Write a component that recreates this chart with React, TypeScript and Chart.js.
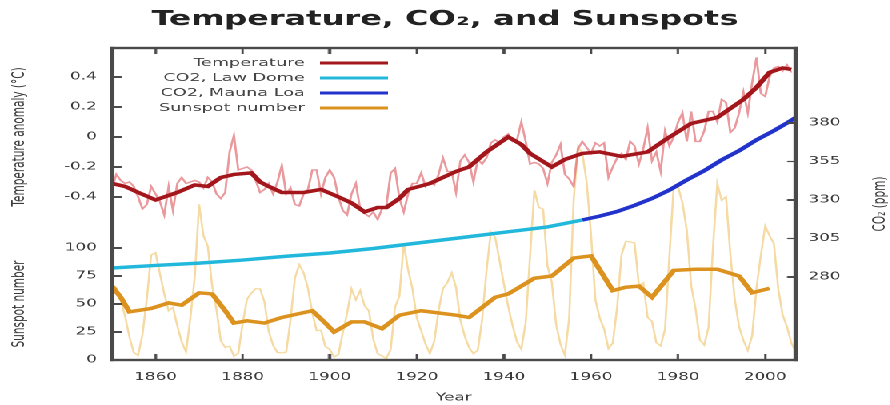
import React, { useEffect, useRef, useState } from "react";
import { Chart, registerables } from "chart.js";

Chart.register(...registerables);

// ---------- text ----------
const TITLE = "Temperature, CO₂, and Sunspots";
const X_TITLE = "Year";
const TEMP_TITLE = "Temperature anomaly (°C)";
const SUN_TITLE = "Sunspot number";
const CO2_TITLE = "CO₂ (ppm)";
const LEGEND_LABELS = ["Temperature", "CO2, Law Dome", "CO2, Mauna Loa", "Sunspot number"];

// ---------- ticks ----------
const YEAR_TICKS = [1860, 1880, 1900, 1920, 1940, 1960, 1980, 2000];
const TEMP_TICKS = [-0.4, -0.2, 0, 0.2, 0.4];
const TEMP_TICK_LABELS = ["-0.4", "-0.2", "0", "0.2", "0.4"];
const SUN_TICKS = [0, 25, 50, 75, 100];
const SUN_TICK_LABELS = ["0", "25", "50", "75", "100"];
const CO2_TICKS = [280, 305, 330, 355, 380];
const CO2_TICK_LABELS = ["280", "305", "330", "355", "380"];

// ---------- axis ranges ----------
const X_MIN = 1850;
const X_MAX = 2007;
const TEMP_MIN = -1.487;
const TEMP_MAX = 0.593;
const SUN_MIN = 0;
const SUN_MAX = 278.6;
const CO2_MIN = 226.1;
const CO2_MAX = 428.7;

// ---------- data ----------
const TEMP_START_YEAR = 1850;
const TEMP_ANNUAL = [
  -0.34, -0.25, -0.29, -0.31, -0.30, -0.33, -0.40, -0.48, -0.45, -0.33,
  -0.38, -0.43, -0.52, -0.33, -0.49, -0.31, -0.27, -0.31, -0.30, -0.29,
  -0.30, -0.34, -0.27, -0.30, -0.38, -0.41, -0.37, -0.10, 0.01, -0.22,
  -0.21, -0.20, -0.22, -0.29, -0.37, -0.35, -0.31, -0.38, -0.30, -0.19,
  -0.38, -0.34, -0.45, -0.46, -0.38, -0.35, -0.22, -0.22, -0.38, -0.27,
  -0.22, -0.27, -0.40, -0.49, -0.52, -0.38, -0.31, -0.48, -0.51, -0.53,
  -0.50, -0.55, -0.48, -0.46, -0.24, -0.21, -0.41, -0.50, -0.38, -0.31,
  -0.31, -0.24, -0.33, -0.30, -0.32, -0.25, -0.14, -0.23, -0.23, -0.37,
  -0.16, -0.12, -0.17, -0.30, -0.15, -0.18, -0.14, -0.04, -0.02, -0.04,
  0.00, 0.02, -0.03, -0.02, 0.10, -0.03, -0.18, -0.17, -0.18, -0.21,
  -0.31, -0.17, -0.12, -0.05, -0.25, -0.28, -0.33, -0.08, -0.03, -0.07,
  -0.11, -0.04, -0.06, -0.04, -0.27, -0.20, -0.14, -0.11, -0.15, -0.03,
  -0.06, -0.18, -0.08, 0.06, -0.16, -0.10, -0.23, 0.04, -0.06, 0.00,
  0.10, 0.16, -0.03, 0.17, -0.03, -0.03, 0.04, 0.17, 0.17, 0.10,
  0.25, 0.23, 0.03, 0.06, 0.16, 0.30, 0.16, 0.36, 0.53, 0.29,
  0.27, 0.40, 0.46, 0.47, 0.44, 0.48, 0.43,
];

const TEMP_SMOOTH_YEARS = [
  1850, 1853, 1856, 1860, 1865, 1869, 1872, 1875, 1878, 1882,
  1884, 1886, 1889, 1894, 1898, 1902, 1905, 1908, 1911, 1913,
  1916, 1918, 1923, 1926, 1929, 1932, 1936, 1941, 1944, 1946,
  1951, 1954, 1958, 1962, 1967, 1973, 1977, 1983, 1989, 1995,
  1998, 2001, 2004, 2006,
];
const TEMP_SMOOTH = [
  -0.31, -0.33, -0.37, -0.42, -0.37, -0.32, -0.33, -0.27, -0.25, -0.24,
  -0.30, -0.33, -0.37, -0.37, -0.35, -0.40, -0.44, -0.50, -0.47, -0.47,
  -0.41, -0.35, -0.31, -0.27, -0.23, -0.20, -0.10, 0.00, -0.05, -0.11,
  -0.20, -0.15, -0.11, -0.10, -0.13, -0.10, -0.02, 0.09, 0.13, 0.25,
  0.33, 0.43, 0.46, 0.45,
];

const SUN_START_YEAR = 1850;
const SUN_ANNUAL = [
  66.5, 64.5, 54.1, 39.0, 20.6, 6.7, 4.3, 22.7, 54.8, 93.8,
  95.8, 77.2, 59.1, 44.0, 47.0, 30.5, 16.3, 7.3, 37.6, 74.0,
  139.0, 111.2, 101.6, 66.2, 44.7, 17.0, 11.3, 12.4, 3.4, 6.0,
  32.3, 54.3, 59.7, 63.7, 63.5, 52.2, 25.4, 13.1, 6.8, 6.3,
  7.1, 35.6, 73.0, 85.1, 78.0, 64.0, 41.8, 26.2, 26.7, 12.1,
  9.5, 2.7, 5.0, 24.4, 42.0, 63.5, 53.8, 62.0, 48.5, 43.9,
  18.6, 5.7, 3.6, 1.4, 9.6, 47.4, 57.1, 103.9, 80.6, 63.6,
  37.6, 26.1, 14.2, 5.8, 16.7, 44.3, 63.9, 69.0, 77.8, 64.9,
  35.7, 21.2, 11.1, 5.7, 8.7, 36.1, 79.7, 114.4, 109.6, 88.8,
  67.8, 47.5, 30.6, 16.3, 9.6, 33.2, 92.6, 151.6, 136.3, 134.7,
  83.9, 69.4, 31.5, 13.9, 4.4, 38.0, 141.7, 190.2, 184.8, 159.0,
  112.3, 53.9, 37.6, 27.9, 10.2, 15.1, 47.0, 93.8, 105.9, 105.5,
  104.5, 66.6, 68.9, 38.0, 34.5, 15.5, 12.6, 27.5, 92.5, 155.4,
  154.6, 140.4, 115.9, 66.6, 45.9, 17.9, 13.4, 29.4, 100.2, 157.6,
  142.6, 145.7, 94.3, 54.6, 29.9, 17.5, 8.6, 21.5, 64.3, 93.3,
  119.6, 111.0, 104.0, 63.7, 40.4, 29.8, 15.2, 7.5,
];

const SUN_SMOOTH_YEARS = [
  1850, 1852, 1854, 1859, 1863, 1866, 1870, 1873, 1876, 1878,
  1881, 1885, 1889, 1896, 1899, 1901, 1905, 1908, 1912, 1916,
  1921, 1929, 1932, 1938, 1941, 1947, 1951, 1956, 1960, 1965,
  1968, 1971, 1974, 1979, 1984, 1989, 1994, 1997, 2001,
];
const SUN_SMOOTH = [
  66, 56, 43, 46, 51, 49, 60, 59, 44, 33,
  35, 33, 38, 44, 33, 25, 34, 34, 28, 40,
  44, 40, 38, 56, 59, 73, 75, 91, 93, 62,
  65, 66, 56, 80, 81, 81, 75, 60, 64,
];

const LAW_DOME_YEARS = [1850, 1860, 1870, 1880, 1890, 1900, 1910, 1920, 1930, 1940, 1950, 1958];
const LAW_DOME = [285.8, 287.5, 289, 291, 293.5, 295.6, 298.5, 302, 305.5, 309, 312.5, 317];

const MAUNA_LOA_YEARS = [1958, 1962, 1966, 1970, 1974, 1978, 1982, 1986, 1990, 1994, 1998, 2002, 2005, 2007];
const MAUNA_LOA = [317, 319.5, 322.5, 326.5, 331, 336.5, 343, 349, 356, 362, 369, 375, 380, 383.5];

// ---------- style ----------
const STRETCH = 1.6;
const OUT_W = 890;
const OUT_H = 405;
const INNER_W = OUT_W / STRETCH;
const FONT = "'DejaVu Sans', sans-serif";
const TEXT_COLOR = "#3a3a3a";
const FRAME_COLOR = "#4a4a4a";
const FRAME_W = 2.4;
const TICK_W = 1.2;
const C_TEMP_ANNUAL = "rgba(225, 110, 115, 0.7)";
const C_TEMP_SMOOTH = "#a3161b";
const C_LAW = "#22b8dc";
const C_MAUNA = "#2233cc";
const C_SUN_ANNUAL = "rgba(242, 210, 140, 0.8)";
const C_SUN_SMOOTH = "#dc921f";

const sunToTemp = (s: number) => TEMP_MIN + ((s - SUN_MIN) / (SUN_MAX - SUN_MIN)) * (TEMP_MAX - TEMP_MIN);
const LEFT_TICK_VALUES = [...TEMP_TICKS, ...SUN_TICKS.map(sunToTemp)];
const LEFT_TICK_LABELS = [...TEMP_TICK_LABELS, ...SUN_TICK_LABELS];

const pairs = (xs: number[], ys: number[]) => ys.map((y, i) => ({ x: xs[i], y }));
const annual = (start: number, ys: number[]) => ys.map((y, i) => ({ x: start + i, y }));

type Geo = { L: number; R: number; T: number; B: number; xt: number[]; lt: number[]; rt: number[] };

function computeGeo(chart: any): Geo {
  const sx = chart.scales.x;
  const sT = chart.scales.yT;
  const sC = chart.scales.yC;
  return {
    L: sT.right,
    R: sC.left,
    T: sT.top,
    B: sT.bottom,
    xt: YEAR_TICKS.map((v) => sx.getPixelForValue(v)),
    lt: LEFT_TICK_VALUES.map((v) => sT.getPixelForValue(v)),
    rt: CO2_TICKS.map((v) => sC.getPixelForValue(v)),
  };
}

function drawFrame(chart: any) {
  const ctx = chart.ctx;
  const g = computeGeo(chart);
  ctx.save();
  ctx.fillStyle = FRAME_COLOR;
  ctx.fillRect(g.L - FRAME_W / 2, g.T - FRAME_W / 2, g.R - g.L + FRAME_W, FRAME_W);
  ctx.fillRect(g.L - FRAME_W / 2, g.B - FRAME_W / 2, g.R - g.L + FRAME_W, FRAME_W);
  ctx.fillRect(g.L - FRAME_W / 2, g.T - FRAME_W / 2, FRAME_W, g.B - g.T + FRAME_W);
  ctx.fillRect(g.R - FRAME_W / 2, g.T - FRAME_W / 2, FRAME_W, g.B - g.T + FRAME_W);
  g.xt.forEach((px) => {
    ctx.fillRect(px - TICK_W / 2, g.B - 6, TICK_W, 6);
    ctx.fillRect(px - TICK_W / 2, g.T, TICK_W, 6);
  });
  g.lt.forEach((py) => ctx.fillRect(g.L, py - TICK_W / 2, 6, TICK_W));
  g.rt.forEach((py) => ctx.fillRect(g.R - 5, py - TICK_W / 2, 5, TICK_W));
  ctx.restore();
}

function drawLegend(chart: any) {
  const ctx = chart.ctx;
  const items: { label: string; color: string }[] = [];
  chart.data.datasets.forEach((ds: any) => {
    if (ds.legendIndex !== undefined) items[ds.legendIndex] = { label: LEGEND_LABELS[ds.legendIndex], color: ds.borderColor };
  });
  ctx.save();
  ctx.font = `11px ${FONT}`;
  ctx.textAlign = "right";
  ctx.textBaseline = "middle";
  items.forEach((it, i) => {
    const y = 63 + i * 15;
    ctx.fillStyle = "#444";
    ctx.fillText(it.label, 190.5, y);
    ctx.strokeStyle = it.color;
    ctx.lineWidth = 3;
    ctx.beginPath();
    ctx.moveTo(200, y);
    ctx.lineTo(242.5, y);
    ctx.stroke();
  });
  ctx.restore();
}

function drawAxisTitles(chart: any) {
  const ctx = chart.ctx;
  const sT = chart.scales.yT;
  const draw = (text: string, x: number, y: number) => {
    ctx.save();
    ctx.translate(x, y);
    ctx.rotate(-Math.PI / 2);
    ctx.textAlign = "center";
    ctx.textBaseline = "middle";
    ctx.fillStyle = TEXT_COLOR;
    ctx.font = `10.5px ${FONT}`;
    ctx.fillText(text, 0, 0);
    ctx.restore();
  };
  draw(TEMP_TITLE, 12.5, sT.getPixelForValue(0));
  draw(SUN_TITLE, 12.5, chart.scales.yS.getPixelForValue(50));
  draw(CO2_TITLE, chart.width - 6, (sT.top + sT.bottom) / 2);
}

export default function App() {
  const ref = useRef<HTMLCanvasElement>(null);
  const [geo, setGeo] = useState<Geo | null>(null);

  useEffect(() => {
    const canvas = ref.current;
    if (!canvas) return;
    let lastKey = "";
    const overlayPlugin = {
      id: "overlayDecor",
      afterDraw(chart: any) {
        try { drawLegend(chart); } catch (e) { /* ignore */ }
        try { drawAxisTitles(chart); } catch (e) { /* ignore */ }
        try { drawFrame(chart); } catch (e) { /* ignore */ }
        try {
          const g = computeGeo(chart);
          const key = JSON.stringify(g);
          if (key !== lastKey) {
            lastKey = key;
            setGeo(g);
          }
        } catch (e) { /* ignore */ }
      },
    };
    const tickFont = { family: FONT, size: 10.5 };
    const chart = new Chart(canvas, {
      type: "line",
      data: {
        datasets: [
          { label: "CO2, Mauna Loa", data: pairs(MAUNA_LOA_YEARS, MAUNA_LOA), yAxisID: "yC", borderColor: C_MAUNA, borderWidth: 3.5, legendIndex: 2 } as any,
          { label: "CO2, Law Dome", data: pairs(LAW_DOME_YEARS, LAW_DOME), yAxisID: "yC", borderColor: C_LAW, borderWidth: 3.5, legendIndex: 1 } as any,
          { label: "Temperature", data: pairs(TEMP_SMOOTH_YEARS, TEMP_SMOOTH), yAxisID: "yT", borderColor: C_TEMP_SMOOTH, borderWidth: 3.5, legendIndex: 0 } as any,
          { label: "Temperature (annual)", data: annual(TEMP_START_YEAR, TEMP_ANNUAL), yAxisID: "yT", borderColor: C_TEMP_ANNUAL, borderWidth: 1.4 },
          { label: "Sunspot number", data: pairs(SUN_SMOOTH_YEARS, SUN_SMOOTH), yAxisID: "yS", borderColor: C_SUN_SMOOTH, borderWidth: 3.5, legendIndex: 3 } as any,
          { label: "Sunspot number (annual)", data: annual(SUN_START_YEAR, SUN_ANNUAL), yAxisID: "yS", borderColor: C_SUN_ANNUAL, borderWidth: 1.3 },
        ],
      },
      options: {
        animation: false,
        responsive: true,
        maintainAspectRatio: false,
        devicePixelRatio: 2,
        events: [],
        elements: { point: { radius: 0 }, line: { tension: 0 } },
        plugins: {
          legend: { display: false },
          tooltip: { enabled: false },
          title: {
            display: true,
            text: TITLE,
            color: "#222",
            font: { family: FONT, size: 20, weight: "bold" },
            padding: { top: 8, bottom: 16 },
          },
        },
        scales: {
          x: {
            type: "linear",
            position: "bottom",
            min: X_MIN,
            max: X_MAX,
            afterBuildTicks: (s: any) => { s.ticks = YEAR_TICKS.map((v) => ({ value: v })); },
            afterFit: (s: any) => { s.height = 45; },
            ticks: { callback: (v: any) => String(v), font: tickFont, color: TEXT_COLOR, padding: 11, maxRotation: 0, autoSkip: false },
            grid: { display: false, drawTicks: false },
            border: { display: false },
            title: { display: true, text: X_TITLE, color: TEXT_COLOR, font: { family: FONT, size: 10.5 }, padding: { top: 0, bottom: 1 } },
          },
          yT: {
            type: "linear",
            position: "left",
            min: TEMP_MIN,
            max: TEMP_MAX,
            afterBuildTicks: (s: any) => { s.ticks = LEFT_TICK_VALUES.map((v) => ({ value: v })); },
            afterFit: (s: any) => { s.width = 70; },
            ticks: { callback: (_v: any, i: number) => LEFT_TICK_LABELS[i], font: tickFont, color: TEXT_COLOR, padding: 9.5, autoSkip: false },
            grid: { display: false, drawTicks: false },
            border: { display: false },
          },
          yS: { type: "linear", display: false, min: SUN_MIN, max: SUN_MAX },
          yC: {
            type: "linear",
            position: "right",
            min: CO2_MIN,
            max: CO2_MAX,
            afterBuildTicks: (s: any) => { s.ticks = CO2_TICKS.map((v) => ({ value: v })); },
            afterFit: (s: any) => { s.width = 59; },
            ticks: { callback: (_v: any, i: number) => CO2_TICK_LABELS[i], font: tickFont, color: TEXT_COLOR, padding: 8, autoSkip: false },
            grid: { display: false, drawTicks: false },
            border: { display: false },
          },
        },
      } as any,
      plugins: [overlayPlugin],
    });
    return () => chart.destroy();
  }, []);

  const bar = (key: string, left: number, top: number, width: number, height: number) => (
    <div key={key} style={{ position: "absolute", left, top, width, height, background: FRAME_COLOR, pointerEvents: "none" }} />
  );

  return (
    <div style={{ position: "fixed", left: 0, top: 0, width: OUT_W, height: OUT_H, overflow: "hidden", background: "#fff" }}>
      <div style={{ position: "relative", width: INNER_W, height: OUT_H, transform: `scaleX(${STRETCH})`, transformOrigin: "0 0" }}>
        <canvas ref={ref} />
        {geo && (
          <>
            {bar("top", geo.L - FRAME_W / 2, geo.T - FRAME_W / 2, geo.R - geo.L + FRAME_W, FRAME_W)}
            {bar("bottom", geo.L - FRAME_W / 2, geo.B - FRAME_W / 2, geo.R - geo.L + FRAME_W, FRAME_W)}
            {bar("left", geo.L - FRAME_W / 2, geo.T - FRAME_W / 2, FRAME_W, geo.B - geo.T + FRAME_W)}
            {bar("right", geo.R - FRAME_W / 2, geo.T - FRAME_W / 2, FRAME_W, geo.B - geo.T + FRAME_W)}
            {geo.xt.map((px, i) => bar("xb" + i, px - TICK_W / 2, geo.B - 6, TICK_W, 6))}
            {geo.xt.map((px, i) => bar("xt" + i, px - TICK_W / 2, geo.T, TICK_W, 6))}
            {geo.lt.map((py, i) => bar("l" + i, geo.L, py - TICK_W / 2, 6, TICK_W))}
            {geo.rt.map((py, i) => bar("r" + i, geo.R - 5, py - TICK_W / 2, 5, TICK_W))}
          </>
        )}
      </div>
    </div>
  );
}
